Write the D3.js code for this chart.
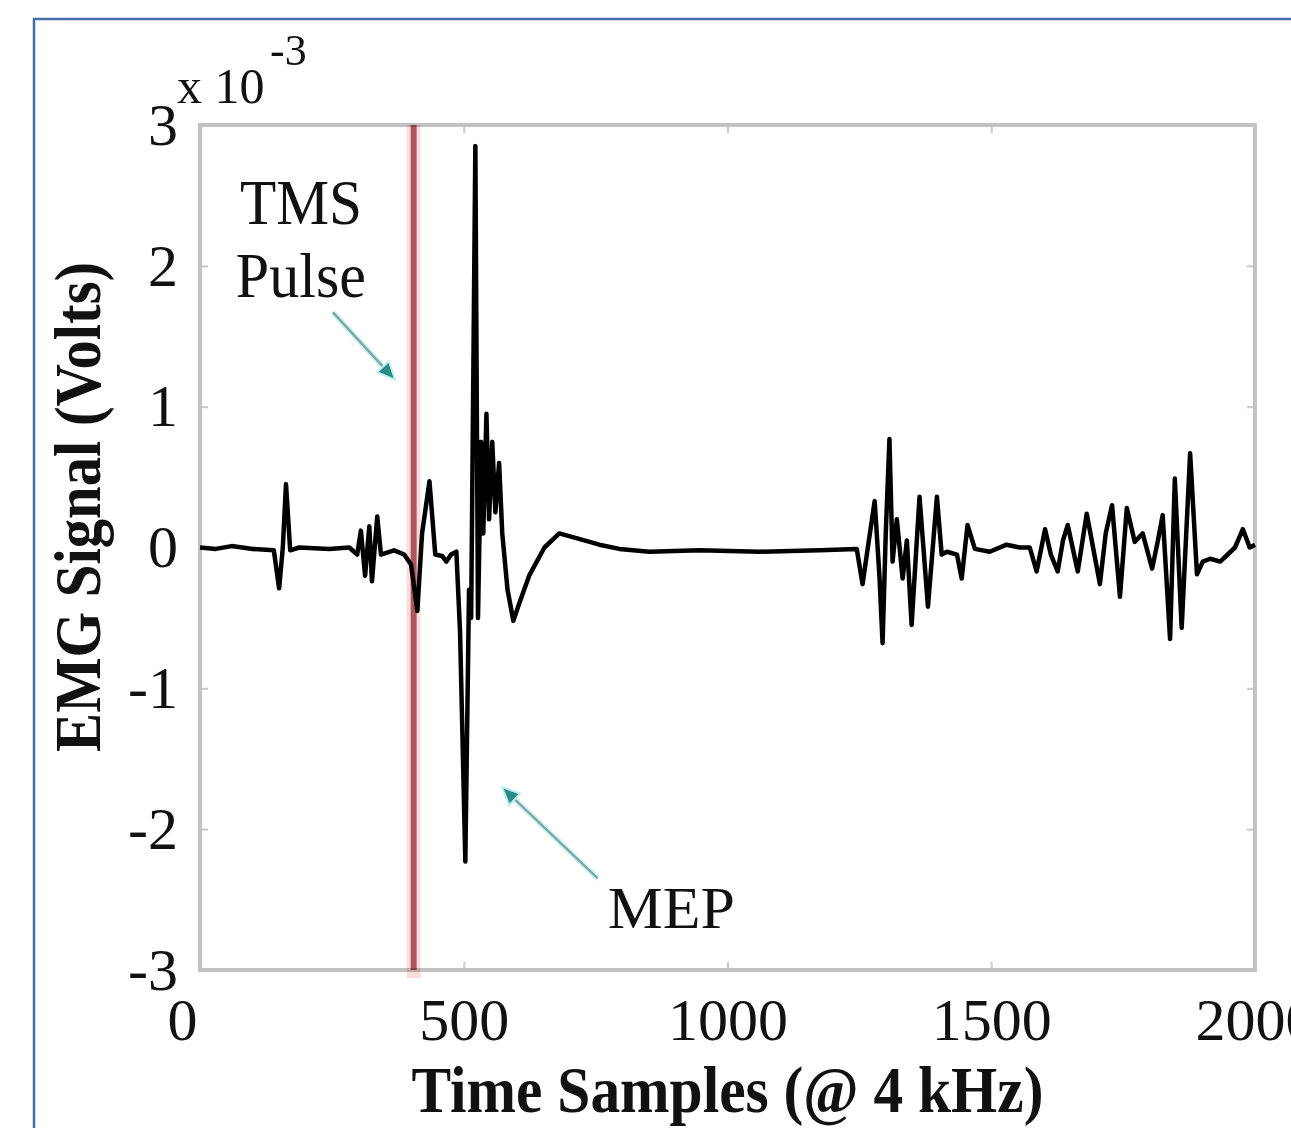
<!DOCTYPE html>
<html><head><meta charset="utf-8">
<script src="https://cdn.jsdelivr.net/npm/d3@7"></script>
<style>
body{margin:0;background:#fff;}
svg{display:block;}
text{font-family:"Liberation Serif","Times New Roman",serif;fill:#111;}
</style>
</head><body>
<svg id="chart" width="1291" height="1128"></svg>
<script>
// ---- data (EMG signal in units of 1e-3 V) ----
const timeSamples = [0,30,60,100,140,150,157,163,171,188,245,283,298,305,313,321,326,336,343,368,387,400,412,421,435,446,459,467,476,486,493,503,510,514,522,527,533,537,543,548,554,560,567,573,583,594,605,624,653,681,710,757,795,852,947,1061,1175,1245,1256,1268,1279,1288,1294,1300,1307,1313,1321,1332,1340,1349,1364,1380,1397,1406,1416,1435,1444,1455,1469,1497,1529,1554,1573,1586,1602,1613,1626,1636,1645,1664,1681,1693,1706,1717,1729,1744,1757,1772,1787,1805,1816,1825,1839,1848,1861,1877,1890,1901,1915,1934,1962,1977,1990,2000];
const emgSignal = [0.0,-0.01,0.01,-0.01,-0.02,-0.29,0.0,0.45,-0.02,0.0,-0.01,0.0,-0.05,0.12,-0.2,0.15,-0.24,0.22,-0.05,-0.02,-0.05,-0.12,-0.45,0.1,0.47,-0.05,-0.06,-0.1,-0.05,-0.03,-0.6,-2.23,-0.3,-0.5,2.85,-0.5,0.75,0.1,0.95,0.2,0.75,0.25,0.6,0.1,-0.3,-0.52,-0.4,-0.2,0.0,0.1,0.07,0.02,-0.01,-0.03,-0.02,-0.03,-0.02,-0.01,-0.26,0.05,0.33,-0.2,-0.68,0.1,0.77,-0.1,0.2,-0.22,0.05,-0.55,0.36,-0.42,0.36,-0.05,-0.03,-0.05,-0.22,0.16,-0.01,-0.03,0.02,0.0,0.0,-0.17,0.13,-0.05,-0.17,0.05,0.16,-0.17,0.24,0.0,-0.26,0.1,0.3,-0.35,0.28,0.04,0.1,-0.15,0.05,0.23,-0.65,0.49,-0.57,0.67,-0.19,-0.1,-0.08,-0.1,0.0,0.13,0.0,0.02];
const xTickValues = [0,500,1000,1500,2000];
const yTickValues = [-3,-2,-1,0,1,2,3];
const tmsPulseSample = 405;
const xLabel = "Time Samples (@ 4 kHz)";
const yLabel = "EMG Signal (Volts)";
const yExponent = "-3";
// annotations in data coordinates: [sample, value]
const tmsText = [["TMS",76,2.30],["Pulse",68,1.78]];
const tmsArrow = [[252,1.67],[370,1.19]];
const mepText = ["MEP",773,-2.70];
const mepArrow = [[754,-2.35],[572,-1.70]];

// ---- drawing ----
const svg = d3.select("#chart");
const x = d3.scaleLinear().domain([0,2000]).range([200,1255]);
const y = d3.scaleLinear().domain([-3,3]).range([970,125]);

// outer blue frame
svg.append("rect").attr("x",34).attr("y",19).attr("width",1320).attr("height",1200)
  .attr("fill","none").attr("stroke","#4a6ea8").attr("stroke-width",2.5);

// axes (inward ticks)
const tickStyle = g => {
  g.select(".domain").remove();
  g.selectAll(".tick line").attr("stroke","#c8c8c8").attr("stroke-width",2);
  g.selectAll(".tick text").attr("font-size",60).attr("fill","#111")
    .style("font-family",'"Liberation Serif","Times New Roman",serif');
};
const plainFmt = d => String(d);
svg.append("g").attr("transform",`translate(0,${y(-3)})`)
  .call(d3.axisBottom(x).tickValues(xTickValues).tickSize(-8).tickPadding(27).tickFormat(plainFmt))
  .call(tickStyle)
  .call(g=>g.selectAll(".tick text").filter(d=>d===0).attr("dx",-18));
svg.append("g").attr("transform",`translate(0,${y(3)})`)
  .call(d3.axisTop(x).tickValues(xTickValues).tickSize(-8).tickFormat(""))
  .call(tickStyle);
svg.append("g").attr("transform",`translate(${x(0)},0)`)
  .call(d3.axisLeft(y).tickValues(yTickValues).tickSize(-8).tickPadding(22).tickFormat(plainFmt))
  .call(tickStyle);
svg.append("g").attr("transform",`translate(${x(2000)},0)`)
  .call(d3.axisRight(y).tickValues(yTickValues).tickSize(-8).tickFormat(""))
  .call(tickStyle);

// plot frame
svg.append("rect").attr("x",x(0)).attr("y",y(3)).attr("width",x(2000)-x(0)).attr("height",y(-3)-y(3))
  .attr("fill","none").attr("stroke","#c2c2c2").attr("stroke-width",4);

// signal
const line = d3.line().x((d,i)=>x(timeSamples[i])).y(d=>y(d));
svg.append("path").datum(emgSignal).attr("d",line)
  .attr("fill","none").attr("stroke","#000").attr("stroke-width",4.5)
  .attr("stroke-linejoin","round");

// TMS pulse line
svg.append("line").attr("x1",x(tmsPulseSample)).attr("x2",x(tmsPulseSample))
  .attr("y1",y(3)).attr("y2",y(-3)+8)
  .attr("stroke","#fbdcdd").attr("stroke-width",14).style("mix-blend-mode","multiply");
svg.append("line").attr("x1",x(tmsPulseSample)).attr("x2",x(tmsPulseSample))
  .attr("y1",y(3)).attr("y2",y(-3))
  .attr("stroke","#b0656b").attr("stroke-width",6).style("mix-blend-mode","multiply");

// arrows
function arrow(pts){
  const [x0,y0] = [x(pts[0][0]),y(pts[0][1])];
  const [x1,y1] = [x(pts[1][0]),y(pts[1][1])];
  const a = Math.atan2(y1-y0,x1-x0), L=18, W=8;
  const bx = x1-L*Math.cos(a), by = y1-L*Math.sin(a);
  svg.append("line").attr("x1",x0).attr("y1",y0).attr("x2",bx).attr("y2",by)
    .attr("stroke","#d8f4f4").attr("stroke-width",6);
  svg.append("line").attr("x1",x0).attr("y1",y0).attr("x2",bx).attr("y2",by)
    .attr("stroke","#7aaaa8").attr("stroke-width",2.5);
  const pts2 = [[x1,y1],[bx+W*Math.sin(a),by-W*Math.cos(a)],[bx-W*Math.sin(a),by+W*Math.cos(a)]];
  svg.append("polygon").attr("points",pts2.map(p=>p.join(",")).join(" "))
    .attr("fill","#2b8c87").attr("stroke","#bff0ee").attr("stroke-width",2);
}
arrow(tmsArrow);
arrow(mepArrow);

// annotation texts
tmsText.forEach(t=>{
  svg.append("text").attr("x",x(t[1])).attr("y",y(t[2])).attr("font-size",64)
    .attr("textLength",t[0]==="TMS"?122:130).attr("lengthAdjust","spacingAndGlyphs").text(t[0]);
});
svg.append("text").attr("x",x(mepText[1])).attr("y",y(mepText[2])).attr("font-size",60)
  .attr("textLength",127).attr("lengthAdjust","spacingAndGlyphs").text(mepText[0]);

// exponent label
svg.append("text").attr("x",177).attr("y",103).attr("font-size",50).text("x 10");
svg.append("text").attr("x",270).attr("y",65).attr("font-size",44).text(yExponent);

// axis labels
svg.append("text").attr("x",(x(0)+x(2000))/2).attr("y",1112).attr("text-anchor","middle")
  .attr("font-size",66).attr("font-weight","bold")
  .attr("textLength",632).attr("lengthAdjust","spacingAndGlyphs").text(xLabel);
svg.append("text").attr("transform","translate(100,507) rotate(-90)").attr("text-anchor","middle")
  .attr("font-size",66).attr("font-weight","bold")
  .attr("textLength",490).attr("lengthAdjust","spacingAndGlyphs").text(yLabel);
</script>
</body></html>
